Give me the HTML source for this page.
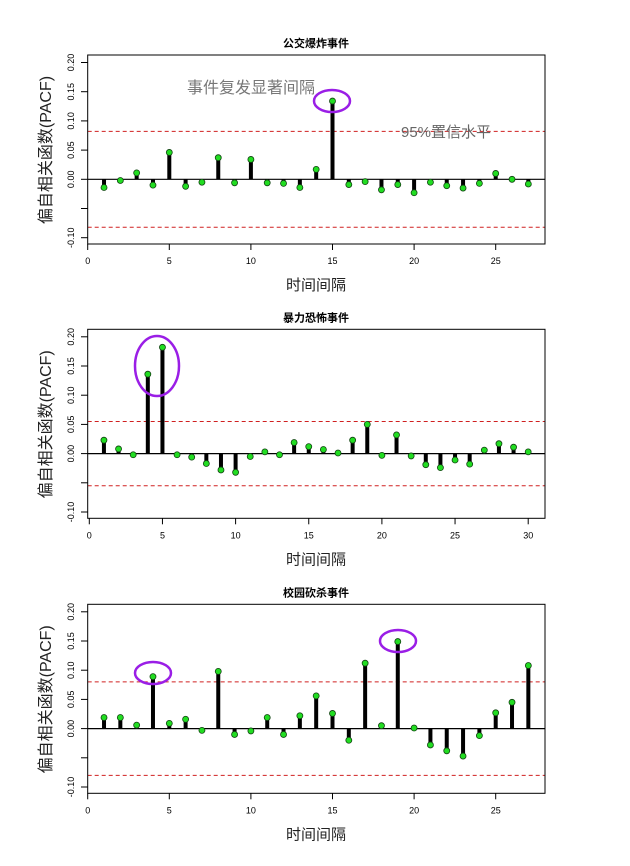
<!DOCTYPE html>
<html><head><meta charset="utf-8"><style>
body{margin:0;background:#fff;}
svg text{font-family:"Liberation Sans","Noto Sans CJK SC",sans-serif;}
</style></head><body>
<svg id="c" width="630" height="861" xmlns="http://www.w3.org/2000/svg"></svg>
<script>
const titles = ["公交爆炸事件","暴力恐怖事件","校园砍杀事件"];
const pacf1 = [-0.014,-0.002,0.011,-0.01,0.046,-0.012,-0.005,0.037,-0.006,0.034,-0.006,-0.007,-0.014,0.017,0.134,-0.009,-0.004,-0.018,-0.009,-0.023,-0.005,-0.011,-0.015,-0.007,0.01,0,-0.008];
const pacf2 = [0.023,0.008,-0.002,0.136,0.182,-0.002,-0.006,-0.017,-0.028,-0.032,-0.005,0.003,-0.002,0.019,0.012,0.007,0.001,0.023,0.05,-0.003,0.032,-0.004,-0.019,-0.024,-0.011,-0.018,0.006,0.017,0.011,0.003];
const pacf3 = [0.019,0.019,0.006,0.089,0.009,0.016,-0.003,0.098,-0.01,-0.004,0.019,-0.01,0.022,0.056,0.026,-0.02,0.112,0.005,0.149,0.001,-0.028,-0.038,-0.047,-0.012,0.027,0.045,0.108];
const ciLevels = [0.082,0.055,0.08];
const xMaxes = [28,31.3,28];
const xTicks1 = [0,5,10,15,20,25];
const xTicks2 = [0,5,10,15,20,25,30];
const yTicks = [0.2,0.15,0.1,0.05,0,-0.05,-0.1];
const yTickLabels = ["0.20","0.15","0.10","0.05","0.00","","-0.10"];
const panelTops = [55,329.3,604.3];

const svg=document.getElementById('c');
const NS='http://www.w3.org/2000/svg';
function mk(tag,attrs,parent){const e=document.createElementNS(NS,tag);for(const k in attrs)e.setAttribute(k,attrs[k]);(parent||svg).appendChild(e);return e;}
const L=87.7,R=545,H=189;
const series=[pacf1,pacf2,pacf3];
const xts=[xTicks1,xTicks2,xTicks1];
for(let p=0;p<3;p++){
  const top=panelTops[p], zeroY=top+124.3;
  const ppu=(xMaxes[p]===28)?16.32:14.63;
  const x0=(xMaxes[p]===28)?87.7:89.3;
  const X=v=>x0+v*ppu;
  const Y=v=>zeroY-v*584;
  const g=mk('g',{});
  
  
  const t=mk('text',{x:316,y:top-8,'text-anchor':'middle','font-size':11,'font-weight':'bold'},g);t.textContent=titles[p];
  
  [ciLevels[p],-ciLevels[p]].forEach(c=>{const l=mk('line',{x1:L,x2:R,y1:Y(c),y2:Y(c),stroke:'#d02020','stroke-width':1,'stroke-dasharray':'4,3'},g);
    });
  const z=mk('line',{x1:L,x2:R,y1:zeroY,y2:zeroY,stroke:'#000','stroke-width':1.2},g);
  
  series[p].forEach((v,i)=>{
    const x=X(i+1);
    const b=mk('line',{x1:x,x2:x,y1:zeroY,y2:Y(v),stroke:'#000','stroke-width':4},g);
    
    const c=mk('circle',{cx:x,cy:Y(v),r:3,fill:'#22dd22',stroke:'#114411','stroke-width':0.8},g);
    
  });
  const box=mk('rect',{x:L,y:top,width:R-L,height:H,fill:'none',stroke:'#000','stroke-width':1},g);
  
  yTicks.forEach((v,i)=>{mk('line',{x1:81,x2:L,y1:Y(v),y2:Y(v),stroke:'#000'},g);
    if(yTickLabels[i]){const tx=mk('text',{x:0,y:0,transform:`translate(74,${Y(v)}) rotate(-90)`,'text-anchor':'middle','font-size':9},g);tx.textContent=yTickLabels[i];
    }});
  xts[p].forEach(v=>{mk('line',{x1:X(v),x2:X(v),y1:top+H,y2:top+H+6,stroke:'#000'},g);
    const tx=mk('text',{x:X(v),y:top+H+20,'text-anchor':'middle','font-size':9},g);tx.textContent=v;
    });
  const xl=mk('text',{x:316,y:top+H+46,'text-anchor':'middle','font-size':15,fill:'#222'},g);xl.textContent='时间间隔';
  
  const yl=mk('text',{x:0,y:0,transform:`translate(51,${top+95}) rotate(-90)`,'text-anchor':'middle','font-size':16,fill:'#222'},g);yl.textContent='偏自相关函数(PACF)';
  
}
function ell(cx,cy,rx,ry){const e=mk('ellipse',{cx,cy,rx,ry,fill:'none',stroke:'#9a1ee6','stroke-width':2.5});
  }
ell(332,101,18,11);ell(157,366,22,30);ell(153,673,18,11);ell(398,641,18,11);
let a=mk('text',{x:187,y:93,'font-size':16,fill:'#777','font-family':'"Liberation Serif","Noto Serif CJK SC",serif'});a.textContent='事件复发显著间隔';

a=mk('text',{x:401,y:137,'font-size':15,fill:'#666','font-family':'"Liberation Serif","Noto Serif CJK SC",serif'});a.textContent='95%置信水平';

</script>
</body></html>
